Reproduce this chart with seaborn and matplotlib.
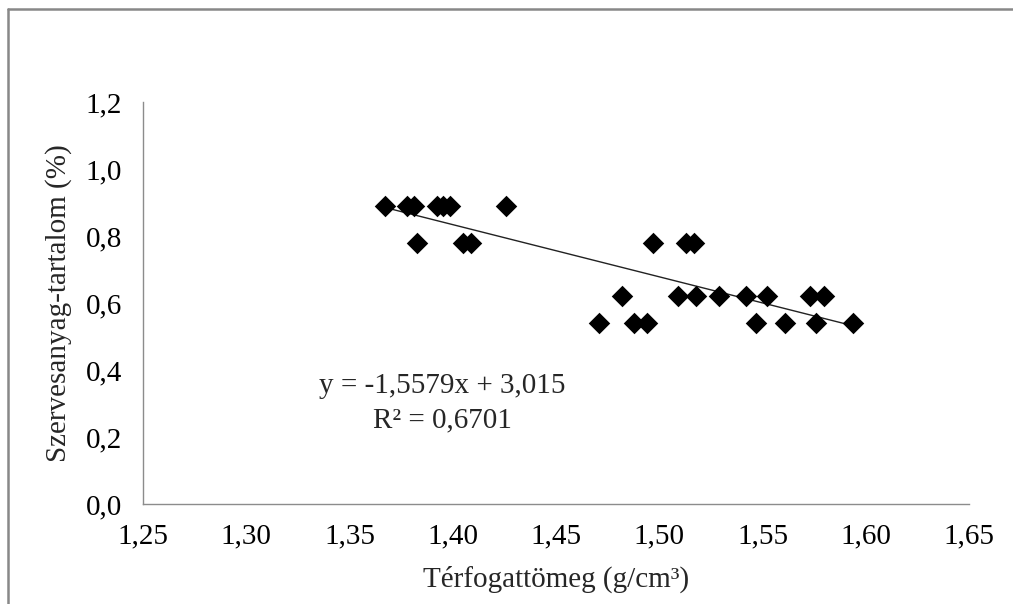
import matplotlib
matplotlib.use("Agg")

import matplotlib.pyplot as plt
import numpy as np
import pandas as pd
import seaborn as sns
from matplotlib.lines import Line2D

# bulk density (g/cm3) and organic matter (%)
bulk_density = [
    1.367, 1.378, 1.381, 1.3925, 1.3955, 1.3985, 1.4257,
    1.3826, 1.405, 1.409, 1.497, 1.513, 1.517,
    1.482, 1.509, 1.518, 1.529, 1.542, 1.552, 1.573, 1.580,
    1.4707, 1.4877, 1.494, 1.547, 1.561, 1.576, 1.594,
]
organic_matter = [
    0.89, 0.89, 0.89, 0.89, 0.89, 0.89, 0.89,
    0.78, 0.78, 0.78, 0.78, 0.78, 0.78,
    0.62, 0.62, 0.62, 0.62, 0.62, 0.62, 0.62, 0.62,
    0.54, 0.54, 0.54, 0.54, 0.54, 0.54, 0.54,
]
slope = -1.5579
intercept = 3.015
r_squared = 0.6701

x_ticks = [1.25, 1.30, 1.35, 1.40, 1.45, 1.50, 1.55, 1.60, 1.65]
y_ticks = [0.0, 0.2, 0.4, 0.6, 0.8, 1.0, 1.2]

df = pd.DataFrame({"x": bulk_density, "y": organic_matter})

sns.set_theme(style="white")
plt.rcParams["font.family"] = ["Liberation Serif", "DejaVu Serif"]

AXIS_GREY = "#8c8c8c"
FS = 21

fig = plt.figure(figsize=(10.13, 6.04), dpi=100)
ax = fig.add_axes([0.1412, 0.1656, 0.9566 - 0.1412, 0.8311 - 0.1656])

sns.scatterplot(data=df, x="x", y="y", marker="D", s=120, color="black",
                edgecolor="black", linewidth=0, ax=ax, zorder=3)

# linear trendline over the data range
xs = np.array([min(bulk_density), max(bulk_density)])
ax.plot(xs, slope * xs + intercept, color="#222222", linewidth=1.0, zorder=2)

ax.set_xlim(x_ticks[0], x_ticks[-1])
ax.set_ylim(y_ticks[0], y_ticks[-1])
ax.set_xticks(x_ticks)
ax.set_yticks(y_ticks)
ax.set_xticklabels([f"{v:.2f}".replace(".", ",") for v in x_ticks])
ax.set_yticklabels([f"{v:.1f}".replace(".", ",") for v in y_ticks])

for side in ("top", "right"):
    ax.spines[side].set_visible(False)
for side in ("left", "bottom"):
    ax.spines[side].set_color(AXIS_GREY)
    ax.spines[side].set_linewidth(1.0)

ax.tick_params(axis="both", direction="out", length=6, width=1.0,
               color=AXIS_GREY, labelsize=FS, labelcolor="black")
ax.tick_params(axis="x", pad=8)
ax.tick_params(axis="y", pad=9)

ax.set_xlabel("Térfogattömeg (g/cm³)", fontsize=FS, labelpad=12)
ax.set_ylabel("Szervesanyag-tartalom (%)", fontsize=FS, labelpad=10)

eq = f"y = {slope:.4f}x + {intercept:.3f}".replace(".", ",")
r2 = f"R² = {r_squared:.4f}".replace(".", ",")
ax.text(1.395, 0.352, eq, ha="center", va="center", fontsize=FS)
ax.text(1.395, 0.25, r2, ha="center", va="center", fontsize=FS)

# chart-area frame (only top and left edges are visible in the crop)
fig.add_artist(Line2D([0.0079, 1.0], [0.985, 0.985], transform=fig.transFigure,
                      color="#888888", linewidth=1.8))
fig.add_artist(Line2D([0.0079, 0.0079], [0.0, 0.985], transform=fig.transFigure,
                      color="#888888", linewidth=1.8))

fig.savefig("out.png", dpi=100, facecolor="white")
